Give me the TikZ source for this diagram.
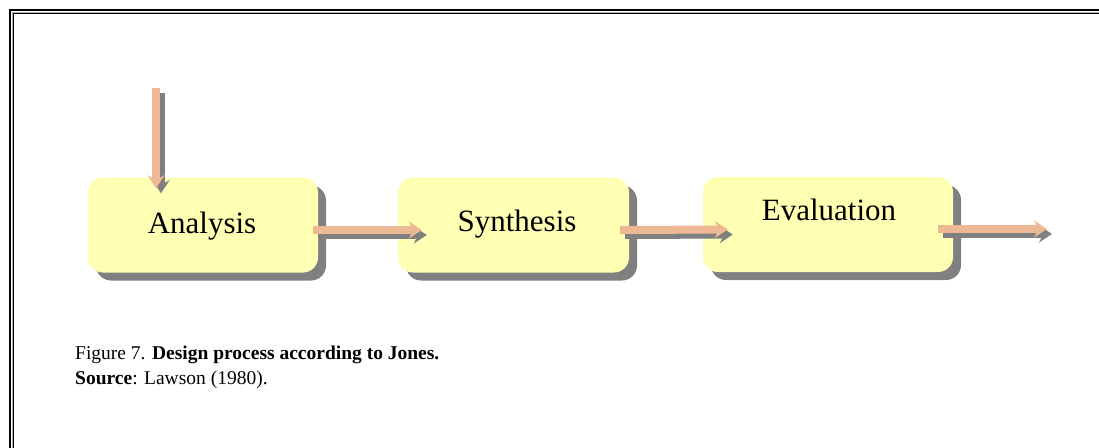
\documentclass[tikz,border=0pt]{standalone}
\usepackage{fontspec}
\setmainfont{Liberation Serif}
\usetikzlibrary{arrows.meta,calc,shadows}

\definecolor{stagefill}{HTML}{FFFFB3}
\definecolor{flowcol}{HTML}{EDB994}
\definecolor{shadecol}{HTML}{808080}
\definecolor{framegray}{HTML}{B0B0B0}

\tikzset{
  stagebox/.style={rounded corners=15pt, fill=stagefill, draw=none, inner sep=0pt,
    minimum height=95pt,
    drop shadow={shadow xshift=8pt, shadow yshift=-8pt, fill=shadecol, opacity=1}},
  stagelabel/.style={anchor=base, inner sep=0pt, font=\fontsize{31}{37}\selectfont},
  flowtip/.style={-{Stealth[length=13pt, width=17pt, inset=4.5pt]}, line width=8pt},
  flowshade/.style={flowtip, draw=shadecol, transform canvas={shift={(5,5)}}},
  flowbody/.style={flowtip, draw=flowcol},
  captext/.style={anchor=base west, inner sep=0pt, font=\fontsize{19.5}{23}\selectfont}
}

\begin{document}
\begin{tikzpicture}[x=1pt, y=-1pt]
  \useasboundingbox (0,0) rectangle (1099,447);
  \fill[white] (0,0) rectangle (1099,447);

  % page frame (open to the right and bottom)
  \draw[line width=2pt, black] (10,460) -- (10,10) -- (1110,10);
  \draw[line width=1pt, framegray] (12,460) -- (12,12) -- (1110,12);
  \draw[line width=1.2pt, black] (13.6,460) -- (13.6,13.6) -- (1110,13.6);

  % process stages
  \node[stagebox, minimum width=230pt] (ana) at (203,225) {};
  \node[stagebox, minimum width=231pt] (syn) at (513.5,225) {};
  \node[stagebox, minimum width=250pt] (eva) at (828,224.5) {};

  \node[stagelabel] (tana) at (202,233) {Analysis};
  \node[stagelabel] (tsyn) at (517,231) {Synthesis};
  \node[stagelabel] (teva) at (829,220) {Evaluation};

  % free ends of the input and output flows
  \coordinate (inflow) at (156,88);
  \coordinate (outflow) at (1047,229);

  % flows: shadow first, then the arrow itself
  \foreach \sty in {flowshade, flowbody} {
    \draw[\sty] (inflow) -- ($(ana.north)+(-47,11)$);
    \draw[\sty] ($(ana.east)+(-5,5)$) -- ($(syn.west)+(24,5)$);
    \draw[\sty] ($(syn.east)+(-9,5)$) -- ($(eva.west)+(25,5)$);
    \draw[\sty] ($(eva.east)+(-15,4.5)$) -- (outflow);
  }

  % caption
  \node[captext] (cap1) at (75,359) {Figure 7. \textbf{Design process according to Jones.}};
  \node[captext] (cap2) at (75,384) {\textbf{Source}: Lawson (1980).};
\end{tikzpicture}
\end{document}
